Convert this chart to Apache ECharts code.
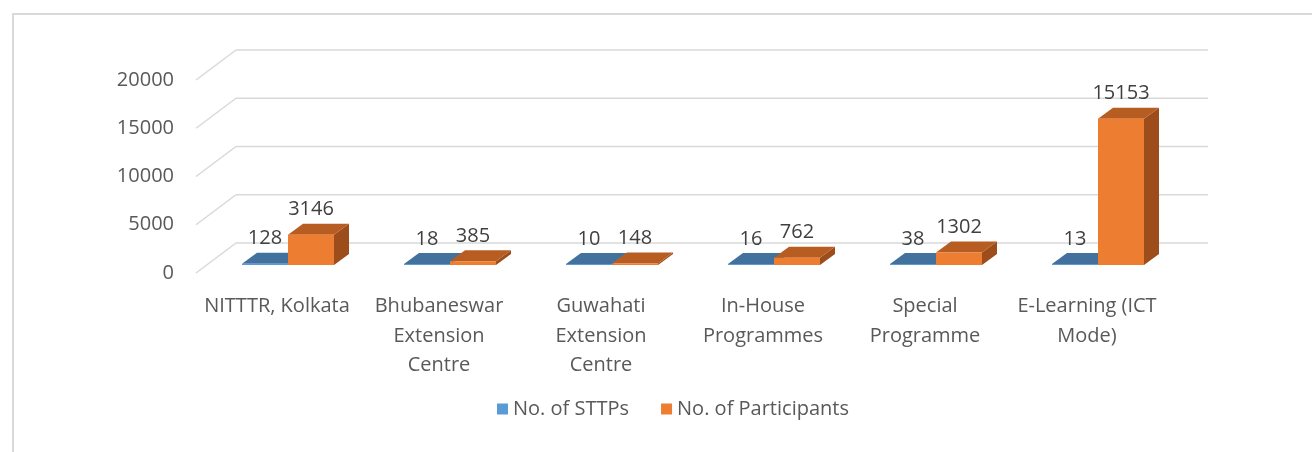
<!DOCTYPE html>
<html>
<head>
<meta charset="utf-8">
<style>
  html, body { margin: 0; padding: 0; background: #fff; }
  #chart { width: 1312px; height: 452px; }
</style>
<script src="https://cdn.jsdelivr.net/npm/echarts@6/dist/echarts.min.js"></script>
</head>
<body>
<div id="chart"></div>
<script>
// categories (line breaks as shown on the axis)
var categories = [
  "NITTTR, Kolkata",
  "Bhubaneswar\nExtension\nCentre",
  "Guwahati\nExtension\nCentre",
  "In-House\nProgrammes",
  "Special\nProgramme",
  "E-Learning (ICT\nMode)"
];
var sttps = [128, 18, 10, 16, 38, 13];
var participants = [3146, 385, 148, 762, 1302, 15153];
var yTicks = [0, 5000, 10000, 15000, 20000];

var FONT = '"Open Sans", sans-serif';
var txtColor = "#595959";
var gridColor = "#d9d9d9";

// 3d look: back wall offset from the label plane, bar plane offset, bar depth
var wallDx = 40, wallDy = -30;
var barDx = 11, barDy = -8;
var depthDx = 15, depthDy = -11;
var barFrac = 0.284;

var colors = {
  blue: { front: "#5b9bd5", top: "#41719c", side: "#3a6690" },
  orange: { front: "#ed7d31", top: "#b85d22", side: "#9c4d1b" }
};

function renderWall(params, api) {
  var cs = params.coordSys;
  var y = api.coord([0, api.value(0)])[1];
  var x0 = cs.x, x1 = cs.x + cs.width;
  var st = { stroke: gridColor, lineWidth: 1.5 };
  return {
    type: "group",
    children: [
      { type: "line", shape: { x1: x0, y1: y, x2: x0 + wallDx, y2: y + wallDy }, style: st },
      { type: "line", shape: { x1: x0 + wallDx, y1: y + wallDy, x2: x1 + wallDx, y2: y + wallDy }, style: st }
    ]
  };
}

function makeBarRenderer(side, pal) {
  return function (params, api) {
    var idx = api.value(0), val = api.value(1);
    var top = api.coord([idx, val]);
    var base = api.coord([idx, 0]);
    var band = api.size([1, 0])[0];
    var w = band * barFrac;
    var cx = top[0] + barDx;
    var x = side === 0 ? cx - w : cx;
    var yT = top[1] + barDy;
    var yB = base[1] + barDy;
    if (yB - yT < 1) yT = yB - 1;
    return {
      type: "group",
      children: [
        { type: "polygon", shape: { points: [[x + w, yT], [x + w + depthDx, yT + depthDy], [x + w + depthDx, yB + depthDy], [x + w, yB]] }, style: { fill: pal.side } },
        { type: "polygon", shape: { points: [[x, yT], [x + w, yT], [x + w + depthDx, yT + depthDy], [x + depthDx, yT + depthDy]] }, style: { fill: pal.top } },
        { type: "rect", shape: { x: x, y: yT, width: w, height: yB - yT }, style: { fill: pal.front } },
        { type: "text", style: { text: String(val), x: x + w / 2, y: yT - 25, align: "center", verticalAlign: "middle", fill: "#404040", font: "20px " + FONT } }
      ]
    };
  };
}

var chart = echarts.init(document.getElementById("chart"));
chart.setOption({
  backgroundColor: "#fff",
  animation: false,
  graphic: [
    { type: "rect", shape: { x: 13, y: 14, width: 1320, height: 460 }, style: { fill: "none", stroke: gridColor, lineWidth: 2 }, z: -1 }
  ],
  grid: { left: 196, right: 144, top: 80, bottom: 179 },
  legend: {
    left: 492, top: 394,
    icon: "rect", itemWidth: 11, itemHeight: 11, itemGap: 32,
    textStyle: { color: txtColor, fontFamily: FONT, fontSize: 20 },
    data: ["No. of STTPs", "No. of Participants"]
  },
  xAxis: {
    type: "category",
    data: categories,
    axisLine: { show: false },
    axisTick: { show: false },
    axisLabel: { color: txtColor, fontFamily: FONT, fontSize: 20, margin: 19, lineHeight: 29.5, interval: 0 }
  },
  yAxis: {
    type: "value", min: 0, max: 20000, interval: 5000,
    axisLine: { show: false },
    axisTick: { show: false },
    splitLine: { show: false },
    axisLabel: {
      color: txtColor, fontFamily: FONT, fontSize: 20, margin: 22, padding: [5, 0, 0, 0],
      formatter: function (v) { return String(v); }
    }
  },
  series: [
    {
      type: "custom", name: "wall", silent: true,
      renderItem: renderWall,
      data: yTicks.map(function (v) { return [v]; }),
      encode: { y: 0 }
    },
    {
      type: "custom", name: "No. of STTPs",
      itemStyle: { color: colors.blue.front },
      renderItem: makeBarRenderer(0, colors.blue),
      data: sttps.map(function (v, i) { return [i, v]; }),
      encode: { x: 0, y: 1 }
    },
    {
      type: "custom", name: "No. of Participants",
      itemStyle: { color: colors.orange.front },
      renderItem: makeBarRenderer(1, colors.orange),
      data: participants.map(function (v, i) { return [i, v]; }),
      encode: { x: 0, y: 1 }
    }
  ]
});
</script>
</body>
</html>
